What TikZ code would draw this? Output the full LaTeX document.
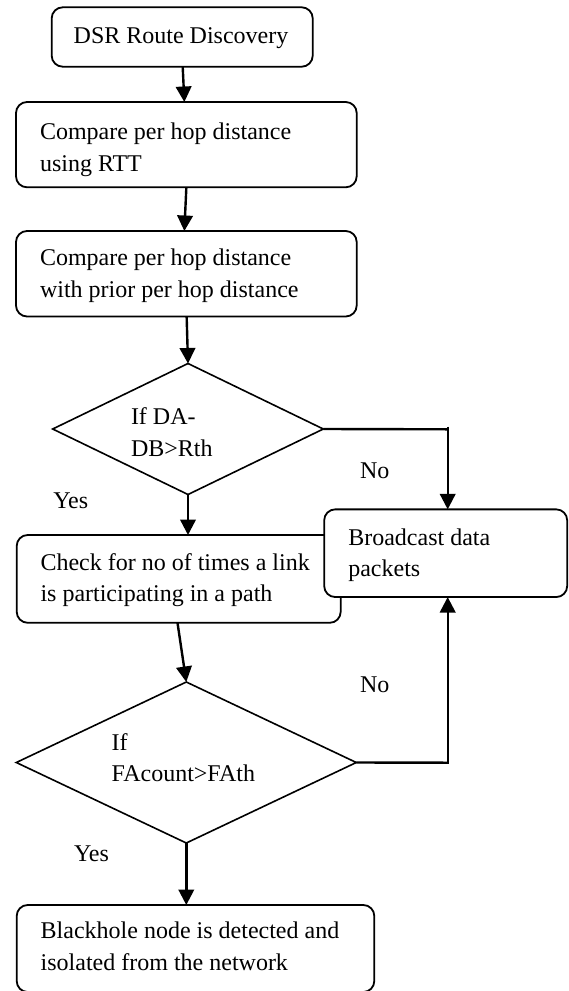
\documentclass[tikz,border=0pt]{standalone}
\usepackage{fontspec}
\setmainfont{Liberation Serif}
\usetikzlibrary{arrows.meta,shapes.geometric}
\begin{document}
\begin{tikzpicture}[x=1pt,y=-1pt,
  box/.style={draw, line width=1.8pt, rounded corners=11pt, fill=white, inner sep=0pt, outer sep=0pt},
  dia/.style={draw, diamond, line width=1.6pt, inner sep=0pt, outer sep=0pt},
  txt/.style={font=\fontsize{24}{31.6}\selectfont, inner sep=0pt, outer sep=0pt, align=left},
  arr/.style={line width=2.4pt, -{Triangle[length=15.5pt,width=15.5pt]}},
  conn/.style={line width=2.4pt}]
\useasboundingbox (0,0) rectangle (568,991);
% boxes (text nodes anchored at the baseline of their last line)
\node[box, minimum width=261pt, minimum height=59.4pt] (b1) at (182.2,37) {};
\node[txt, anchor=base] (t1) at (181,43.3) {DSR Route Discovery};
\node[box, minimum width=340.7pt, minimum height=85.3pt] (b2) at (186.35,144.65) {};
\node[txt, anchor=base west] (t2) at (40,171) {Compare per hop distance\\using RTT};
\node[box, minimum width=340.7pt, minimum height=85.5pt] (b3) at (186.35,273.75) {};
\node[txt, anchor=base west] (t3) at (40,297.3) {Compare per hop distance\\with prior per hop distance};
\node[dia, minimum width=270.6pt, minimum height=131pt] (d1) at (188,429) {};
\node[txt, anchor=base west] (td1) at (131,456) {If DA-\\DB>Rth};
\node[box, minimum width=324pt, minimum height=87.8pt] (cb) at (178.7,578.9) {};
\node[txt, anchor=base west] (tcb) at (40.5,601.7) {Check for no of times a link\\is participating in a path};
\node[box, minimum width=243pt, minimum height=87.7pt] (bc) at (445.7,553.2) {};
\node[txt, anchor=base west] (tbc) at (348.3,576.7) {Broadcast data\\packets};
\node[dia, minimum width=340pt, minimum height=161pt] (d2) at (186.3,762.5) {};
\node[txt, anchor=base west] (td2) at (111.7,781.7) {If\\FAcount>FAth};
\node[box, minimum width=357.6pt, minimum height=87pt] (fb) at (195.5,948.5) {};
\node[txt, anchor=base west] (tfb) at (40.7,970) {Blackhole node is detected and\\isolated from the network};
% labels
\node[txt, anchor=base west] (no1) at (360,478.3) {No};
\node[txt, anchor=base west] (yes1) at (53.3,508) {Yes};
\node[txt, anchor=base west] (no2) at (360,692.7) {No};
\node[txt, anchor=base west] (yes2) at (74,861.7) {Yes};
% connectors
\coordinate (c1) at (447.7,429.3);
\coordinate (c2) at (447.7,762.7);
\draw[arr] ([xshift=0.5pt]b1.south) -- ([xshift=-2pt]b2.north);
\draw[arr] (b2.south) -- ([xshift=-2pt]b3.north);
\draw[arr] ([xshift=0.3pt]b3.south) -- (d1.north);
\draw[arr] (d1.south) -- (d1.south |- cb.north);
\draw[conn] (d1.east) -- (c1);
\draw[arr] ([yshift=2.6pt]c1) -- (c1 |- bc.north);
\draw[arr] ([xshift=-1.2pt]cb.south) -- (d2.north);
\draw[conn] (d2.east) -- (c2);
\draw[arr] ([yshift=-1.2pt]c2) -- (c2 |- bc.south);
\draw[arr] (d2.south) -- (d2.south |- fb.north);
\end{tikzpicture}
\end{document}
